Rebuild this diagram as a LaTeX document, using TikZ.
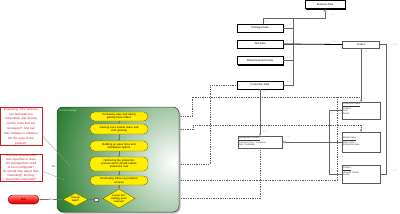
\documentclass[tikz,border=0pt]{standalone}
\usepackage{fontspec}
\setmainfont{Liberation Sans}
\usetikzlibrary{shapes.geometric,arrows.meta,shadows}
\pgfdeclarelayer{bg}
\pgfdeclarelayer{lines}
\pgfdeclarelayer{panel}
\pgfsetlayers{bg,lines,panel,main}
\definecolor{gdark}{RGB}{0,98,8}
\definecolor{ylw}{RGB}{255,238,0}
\definecolor{ybrd}{RGB}{105,95,0}
\definecolor{nred}{RGB}{205,30,40}
\begin{document}
\begin{tikzpicture}[x=1pt,y=-1pt,
  databox/.style={draw=black, line width=0.35pt, fill=white, minimum width=46pt, minimum height=8pt, inner sep=0pt, font=\fontsize{2.6}{3}\selectfont, drop shadow={shadow xshift=1.1pt, shadow yshift=-1.1pt, fill=black, opacity=1}},
  umlbox/.style={draw=black!65, line width=0.35pt, fill=white, minimum width=38pt, inner sep=0pt},
  umltxt/.style={anchor=north west, align=left, inner sep=0.8pt, font=\fontsize{2.3}{2.8}\selectfont, text=black!80},
  task/.style={draw=ybrd, line width=0.35pt, fill=ylw, rounded corners=4.5pt, minimum width=58pt, minimum height=9pt, text width=54pt, align=center, inner sep=0.5pt, font=\fontsize{2.7}{3.1}\selectfont},
  decision/.style={diamond, draw=ybrd, line width=0.35pt, fill=ylw, inner sep=0pt, align=center, font=\fontsize{2.5}{2.9}\selectfont},
  note/.style={draw=nred, line width=0.3pt, fill=white, text=nred, text width=41pt, align=center, inner sep=0.5pt},
  flow/.style={draw=black!55, line width=0.3pt},
  dline/.style={draw=black!65, line width=0.45pt, dash pattern=on 1.3pt off 1pt},
  sline/.style={draw=black!60, line width=0.4pt},
  mult/.style={font=\fontsize{1.9}{2.2}\selectfont, text=black!55, inner sep=0.2pt},
  lbl/.style={font=\fontsize{2.4}{2.8}\selectfont, text=black!80, inner sep=0.3pt},
  tip/.style={-{Latex[length=2pt,width=1.8pt]}}
]
\useasboundingbox (0,0) rectangle (400,214);
\begin{pgfonlayer}{bg}
\fill[white] (0,0) rectangle (400,214);
\end{pgfonlayer}

% ---------- data boxes ----------
\node[databox, minimum width=40pt] (bp) at (325,4.5) {Business Plan};
\node[databox] (proto) at (260,28) {Prototype Data};
\node[databox] (test) at (260,44) {Test Data};
\node[databox] (mrd) at (260,60.5) {Market Research Data};
\node[databox] (prod) at (260,85) {Production Data};
\node[umlbox, minimum width=37pt, minimum height=7.5pt, font=\fontsize{2.4}{2.8}\selectfont] (product) at (361,44.5) {Product};

\node[umlbox, minimum height=17pt] (b1) at (361,110.5) {};
\node[umltxt] (b1t) at (b1.north west) {\underline{Production Value}\\Product\\Cost\\Period};
\node[umlbox, minimum height=20pt] (b2) at (361,142) {};
\node[umltxt] (b2t) at ([yshift=-4pt]b2.north west) {\underline{Market Value}\\Sales Value\\Enterprise Value};
\node[umlbox, minimum height=18pt] (b3) at (361,174) {};
\node[umltxt] (b3t) at ([yshift=-1pt]b3.north west) {\underline{Product}\\Lifecycle Phase\\Period};

\node[umlbox, minimum width=44pt, minimum height=12pt] (mg) at (260,142) {};
\node[umltxt, font=\fontsize{2.1}{2.6}\selectfont] (mgt) at (mg.north west) {\underline{Management Decision}\\Production Plan + Investment\\Plan / Profitability};

% ---------- panel ----------
\begin{pgfonlayer}{panel}
\fill[black!25, rounded corners=6pt] (58.5,108.5) rectangle (180.5,213.5);
\begin{scope}
\clip[rounded corners=6pt] (57,107) rectangle (179,212);
\fill[gdark] (57,107) rectangle (179,212);
\shade[inner color=white, outer color=gdark] (174,162) circle (150);
\end{scope}
\draw[black!75, line width=0.5pt, rounded corners=6pt] (57,107) rectangle (179,212);
\end{pgfonlayer}
\node[lbl, text=green!25, anchor=west] (ptitle) at (59,110.5) {Growth strategy};

% ---------- tasks ----------
\node[task] (t1) at (119,116.5) {Increasing sales and taking\\gaining more orders};
\node[task, minimum height=10pt] (t2) at (119,129) {Gaining more market share and\\start growing};
\node[task, minimum height=10pt] (t3) at (119,146) {Building up sales force and\\distribution system};
\node[task, minimum height=14pt] (t4) at (119,164) {Optimizing the production\\process which should reduce\\production cost};
\node[task] (t5) at (119,180.5) {Developing follow-up products/\\services};
\node[decision, aspect=1.9, minimum width=25pt, minimum height=13pt] (d1) at (75.5,199.5) {Change\\tasks?};
\node[decision, aspect=1.7, minimum width=32pt, minimum height=19pt] (d2) at (119,198.5) {Longer-term\\strategy goals\\reached?};
\node[draw=black!60, fill=white, minimum size=3.5pt, inner sep=0pt] (sq) at (96,199.5) {};

\node[draw=red!45!black, line width=0.35pt, rounded corners=4.5pt, minimum width=31pt, minimum height=9pt, shading=axis, top color=red!45, bottom color=red!80!black, middle color=red!85, font=\fontsize{2.8}{3.2}\selectfont] (ex) at (23.5,199.5) {Exit};

% ---------- notes ----------
\node[note, font=\fontsize{3.0}{4.9}\selectfont] (n1) at (21,126.5) {Evaluating if the services\\can anticipate the\\competition and do they\\cut the costs that are\\necessary? And can\\they manage to enhance\\the life cycle of the\\product?};
\node[note, font=\fontsize{3.0}{3.9}\selectfont] (n2) at (21,167.5) {Does the venture need\\new expertise or does\\the management need\\to be reconfigured?\\Or should they adjust their\\marketing? Do they\\need more resources?};

% ---------- flow ----------
\draw[flow, tip] (t1.south) -- (t2.north);
\draw[flow, tip] (t2.south) -- (t3.north);
\draw[flow, tip] (t3.south) -- (t4.north);
\draw[flow, tip] (t4.south) -- (t5.north);
\draw[flow, tip] (t5.south) -- (d2.north);
\draw[flow] (d2.west) -- (sq.east);
\draw[flow, tip] (sq.west) -- (d1.east);
\draw[flow, tip] (d1.west) -- node[lbl, fill=white] {No} (ex.east);
\node[lbl] (yes) at (53.5,167) {Yes};
\coordinate (c1) at (70,166);
\coordinate (c2) at (64,180);
\draw[flow, black!40] ([yshift=-9pt]n1.east) -- (c1);
\draw[flow, black!40] ([yshift=-3.5pt]n2.east) -- (c2);

% ---------- right network ----------
\coordinate (j0) at (325,18);
\draw[sline, -{Triangle[open,length=3pt,width=3pt]}] ([xshift=3pt]proto.north) |- (j0) -- (bp.south);
\coordinate (rv) at (293,18);
\draw[sline] (proto.east) -| (rv);
\draw[sline] (test.east) -| (rv);
\draw[sline] (mrd.east) -| (rv);
\draw[sline] (prod.east) -| (rv);
\draw[line width=0.8pt, black] (test.east) -- (product.west);
\draw[sline, tip] (product.south) -- (b1.north);
\coordinate (pr) at (386,174);
\draw[sline] (product.east) -| (pr) -- (b3.east);
\coordinate (lv) at (329,174);
\draw[sline] (b1.west) -| (lv) -- (b3.west);
\draw[sline, {Diamond[open,length=4pt,width=2.5pt]}-] (mg.east) -- (b2.west);
\draw[sline, tip] (prod.south) -- (mg.north);

\begin{pgfonlayer}{lines}
\coordinate (a1) at (192,97);
\draw[dline] (t1.east) -| (a1) -| (b1.north);
\coordinate (a2) at (193,125);
\draw[dline, tip] (t2.east) -| (a2) -| (b2.north);
\coordinate (a4) at (210,85);
\draw[dline] (t4.east) -| (a4) -- (prod.west);
\coordinate (a5) at (337,97);
\draw[dline] (t5.east) -| (a5);
\draw[dline] (d2.east) -| (mg.south);
\end{pgfonlayer}

% ---------- multiplicities ----------
\node[mult] (m1) at (267,21.5) {1..1};
\node[mult] (m2) at (289,25) {1..1};
\node[mult] (m3) at (289,41) {1..1};
\node[mult] (m4) at (289,57.5) {1..1};
\node[mult] (m5) at (289,82) {1..1};
\node[mult] (m6) at (333,15) {1..1};
\node[mult] (m7) at (334,41.5) {1..1};
\node[mult] (m8) at (395,45) {0..1};
\node[mult] (m9) at (366,52) {1..*};
\node[mult] (m10) at (265,92) {1..1};
\node[mult] (m11) at (265,132) {1..1};
\node[mult] (m12) at (288,137) {0..1};
\node[mult] (m13) at (395,171) {1..1};
\node[mult] (m14) at (333,113) {1};
\node[mult] (m15) at (333,171) {1};
\node[mult] (m16) at (365,99) {1};
\node[mult] (m17) at (366,129) {1};
\end{tikzpicture}
\end{document}
